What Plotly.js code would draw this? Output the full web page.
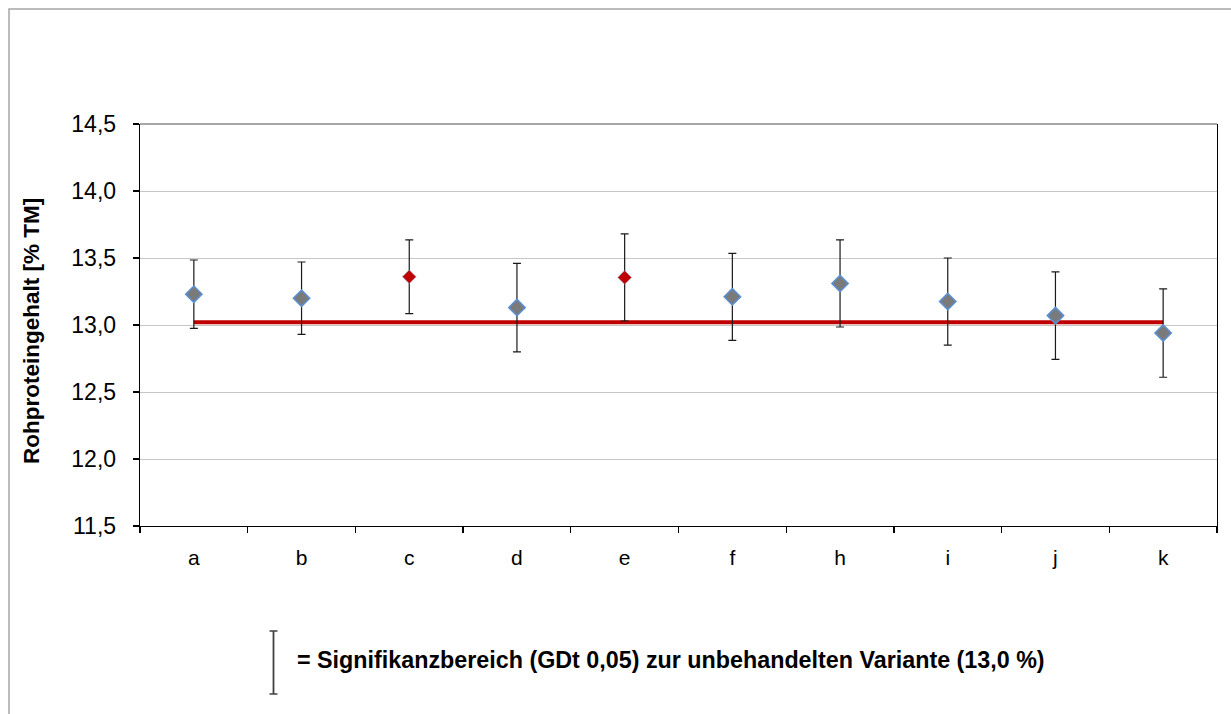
<!DOCTYPE html>
<html>
<head>
<meta charset="utf-8">
<script src="https://cdn.plot.ly/plotly-3.0.1.min.js"></script>
<style>
  html, body { margin: 0; padding: 0; background: #ffffff; }
  #chart { width: 1231px; height: 714px; }
</style>
</head>
<body>
<div id="chart"></div>
<script>
// ---- data ----
const categories = ['a', 'b', 'c', 'd', 'e', 'f', 'h', 'i', 'j', 'k'];
const proteinValues = [13.23, 13.20, 13.36, 13.13, 13.355, 13.21, 13.31, 13.175, 13.07, 12.94];
const significanceRange = [0.255, 0.27, 0.275, 0.33, 0.325, 0.325, 0.325, 0.325, 0.327, 0.33];
const significant = [false, false, true, false, true, false, false, false, false, false];
const untreatedReference = 13.02;
const referenceLine = categories.map(() => untreatedReference);
const yTickValues = [11.5, 12.0, 12.5, 13.0, 13.5, 14.0, 14.5];
const yAxisTitle = 'Rohproteingehalt [% TM]';
const legendText = '= Signifikanzbereich (GDt 0,05) zur unbehandelten Variante (13,0 %)';

// ---- styles ----
const FONT = 'Liberation Sans, Arial, sans-serif';
const plotLeft = 140, plotRight = 1217, plotTop = 124, plotBottom = 526;
const W = plotRight - plotLeft, H = plotBottom - plotTop;
const px = x => (x - plotLeft) / W;
const py = y => (plotBottom - y) / H;

const traces = [
  {
    type: 'scatter', mode: 'lines',
    x: categories, y: referenceLine,
    line: { color: '#C00000', width: 4 },
    hoverinfo: 'skip', showlegend: false
  },
  {
    type: 'scatter', mode: 'markers',
    x: categories, y: proteinValues,
    error_y: { type: 'data', array: significanceRange, symmetric: true,
               color: '#1A1A1A', thickness: 1.2, width: 4 },
    marker: {
      symbol: 'diamond',
      opacity: 1,
      size: significant.map(s => s ? 10.5 : 12.5),
      color: significant.map(s => s ? '#C00000' : '#7A7A7A'),
      line: { color: significant.map(s => s ? 'rgba(130,160,210,0.7)' : '#5B8FD0'),
              width: significant.map(s => s ? 0.8 : 1.6) }
    },
    showlegend: false
  }
];

const layout = {
  width: 1231, height: 714,
  margin: { l: plotLeft, r: 1231 - plotRight, t: plotTop, b: 714 - plotBottom, pad: 0 },
  paper_bgcolor: '#ffffff', plot_bgcolor: '#ffffff',
  separators: ',.',
  font: { family: FONT, color: '#000000' },
  showlegend: false,
  xaxis: {
    type: 'category',
    showline: true, linecolor: '#000000', linewidth: 1.3,
    ticks: 'outside', tickson: 'boundaries', ticklen: 6, tickcolor: '#000000', tickwidth: 1.3,
    ticklabelstandoff: 12,
    showgrid: false, zeroline: false,
    tickfont: { family: FONT, size: 21, color: '#000000' },
    range: [-0.5, categories.length - 0.5]
  },
  yaxis: {
    range: [11.5, 14.5],
    tickvals: yTickValues,
    tickformat: '.1f',
    showline: true, mirror: true, linecolor: '#000000', linewidth: 1.3,
    ticks: 'outside', ticklen: 6, tickcolor: '#000000', tickwidth: 1.3,
    ticklabelstandoff: 12,
    showgrid: true, gridcolor: '#C6C6C6', gridwidth: 1,
    zeroline: false,
    tickfont: { family: FONT, size: 23, color: '#000000' }
  },
  shapes: [
    // outer chart frame
    { type: 'rect', xref: 'paper', yref: 'paper',
      x0: px(9), x1: px(1245), y0: py(730), y1: py(9),
      line: { color: '#A6A6A6', width: 1.5 }, fillcolor: 'rgba(0,0,0,0)', layer: 'below' },
    // top border of plot area
    { type: 'line', xref: 'paper', yref: 'paper', x0: 0, x1: 1, y0: 1, y1: 1,
      line: { color: '#8A8A8A', width: 1.3 } },
    // legend error bar symbol
    { type: 'line', xref: 'paper', yref: 'paper', x0: px(273.5), x1: px(273.5), y0: py(631), y1: py(694),
      line: { color: '#404040', width: 1.8 } },
    { type: 'line', xref: 'paper', yref: 'paper', x0: px(269.5), x1: px(277.5), y0: py(631), y1: py(631),
      line: { color: '#404040', width: 1.5 } },
    { type: 'line', xref: 'paper', yref: 'paper', x0: px(269.5), x1: px(277.5), y0: py(694), y1: py(694),
      line: { color: '#404040', width: 1.5 } }
  ],
  annotations: [
    { text: '<b>' + yAxisTitle + '</b>', xref: 'paper', yref: 'paper',
      x: px(31), y: py(331), xanchor: 'center', yanchor: 'middle', textangle: -90,
      showarrow: false, font: { family: FONT, size: 22.5, color: '#000000' } },
    { text: '<b>' + legendText + '</b>', xref: 'paper', yref: 'paper',
      x: px(295), y: py(660), xanchor: 'left', yanchor: 'middle',
      showarrow: false, font: { family: FONT, size: 23.3, color: '#000000' } }
  ]
};

Plotly.newPlot('chart', traces, layout, { displayModeBar: false, staticPlot: true });
</script>
</body>
</html>
